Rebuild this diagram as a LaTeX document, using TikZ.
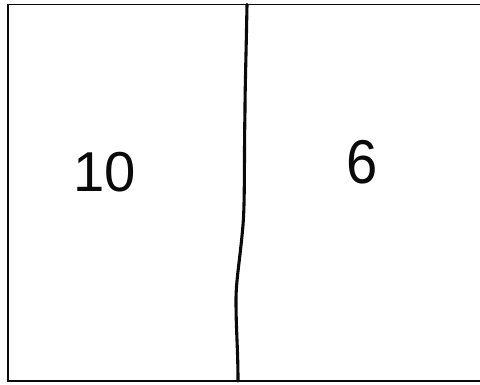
\documentclass[tikz,border=0pt]{standalone}
\usepackage{fontspec}
\usepackage{tikz}
\newfontfamily\handfont{Liberation Sans}
\definecolor{sketchink}{RGB}{10,10,10}
\tikzset{
  framestroke/.style={sketchink, line width=1.3pt},
  cutstroke/.style={sketchink, line width=2.2pt, line cap=round, line join=round},
  digit/.style={sketchink, inner sep=0pt, font=\handfont\fontsize{40}{40}\selectfont}
}

\begin{document}
\begin{tikzpicture}[x=0.025cm, y=-0.025cm]
  \useasboundingbox[fill=white] (0,0) rectangle (480,384);
  % outer frame, open to the right
  \draw[framestroke] (481,4.5) -- (8,4.5) -- (8,381) -- (481,381);
  % wobbly dividing line
  \draw[cutstroke] (247,4.5) .. controls (246,60) and (245,90) .. (245,110)
    .. controls (244,160) and (245,200) .. (243,225)
    .. controls (240,260) and (236,280) .. (236,300)
    .. controls (236,330) and (238,350) .. (238,381);
  % the two parts
  \node[digit] (left) at (105,172) {10};
  \node[digit, yscale=1.1] (right) at (362,162) {6};
\end{tikzpicture}
\end{document}
